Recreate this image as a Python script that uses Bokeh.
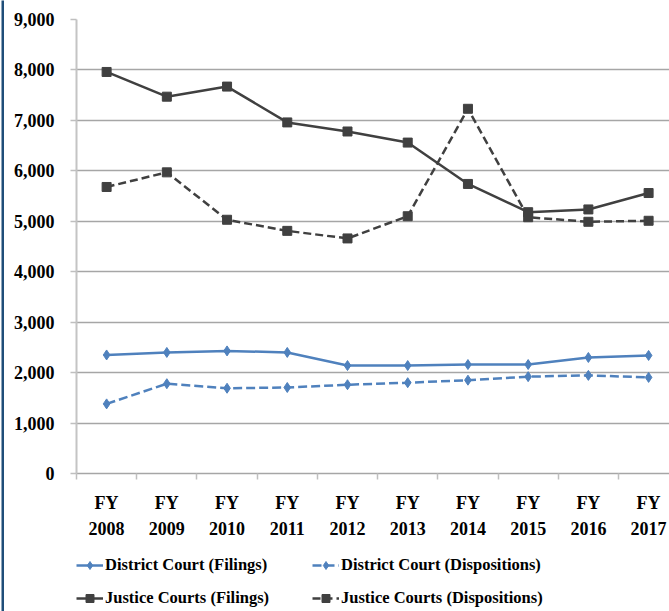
from bokeh.plotting import figure
from bokeh.models import Range1d, FixedTicker, NumeralTickFormatter, Legend, LegendItem
from bokeh.layouts import row, column
from bokeh.embed import file_html
from bokeh.resources import INLINE

years = ["2008", "2009", "2010", "2011", "2012", "2013", "2014", "2015", "2016", "2017"]
district_filings = [2350, 2400, 2430, 2400, 2140, 2140, 2160, 2160, 2300, 2340]
district_dispositions = [1380, 1780, 1690, 1705, 1760, 1800, 1850, 1920, 1945, 1905]
justice_filings = [7960, 7470, 7670, 6960, 6780, 6560, 5740, 5180, 5235, 5560]
justice_dispositions = [5680, 5970, 5030, 4810, 4660, 5100, 7230, 5080, 4990, 5010]
y_ticks = [0, 1000, 2000, 3000, 4000, 5000, 6000, 7000, 8000, 9000]

x = list(range(len(years)))
BLUE = "#4F81BD"
DARK = "#404040"
FONT = "Liberation Serif"
NAN = float("nan")

# thin page border on the left
bar = figure(width=4, height=611, output_backend="svg", toolbar_location=None,
             x_axis_type=None, y_axis_type=None, min_border_left=1, min_border_right=0,
             min_border_top=0, min_border_bottom=0, x_range=Range1d(0, 1), y_range=Range1d(0, 1))
bar.outline_line_color = None
bar.grid.visible = False
bar.background_fill_color = "#1F4E79"
bar.border_fill_color = "white"

p = figure(width=665, height=548, x_range=Range1d(-0.5, 9.347), y_range=Range1d(0, 9000),
           output_backend="svg", toolbar_location=None,
           min_border_left=72, min_border_right=0, min_border_top=19, min_border_bottom=75)
p.outline_line_color = None
p.xgrid.visible = False
p.ygrid.grid_line_color = "#A6A6A6"
p.ygrid.grid_line_width = 1.5

p.yaxis.ticker = FixedTicker(ticks=y_ticks)
p.yaxis.formatter = NumeralTickFormatter(format="0,0")
p.yaxis.axis_line_color = "#C4C4C4"
p.yaxis.axis_line_width = 2
p.yaxis.major_tick_out = 6
p.yaxis.major_tick_in = 0
p.yaxis.major_tick_line_color = "#BFBFBF"
p.yaxis.major_tick_line_width = 1.5
p.yaxis.minor_tick_out = 0
p.yaxis.minor_tick_in = 0
p.yaxis.major_label_standoff = 16

p.xaxis.ticker = FixedTicker(ticks=x, minor_ticks=[i - 0.5 for i in range(len(years) + 1)])
p.xaxis.major_label_overrides = {i: "FY\n" + y for i, y in enumerate(years)}
p.xaxis.axis_line_color = "#A6A6A6"
p.xaxis.axis_line_width = 1.5
p.xaxis.major_tick_out = 0
p.xaxis.major_tick_in = 0
p.xaxis.minor_tick_out = 6
p.xaxis.minor_tick_in = 0
p.xaxis.minor_tick_line_color = "#BFBFBF"
p.xaxis.minor_tick_line_width = 1.5
p.xaxis.major_label_standoff = 13
p.xaxis.major_label_text_line_height = 1.32

for ax in (p.xaxis[0], p.yaxis[0]):
    ax.major_label_text_font = FONT
    ax.major_label_text_font_style = "bold"
    ax.major_label_text_font_size = "18px"
    ax.major_label_text_color = "black"

series = [
    ("District Court (Filings)", district_filings, BLUE, "solid", "diamond", 10),
    ("District Court (Dispositions)", district_dispositions, BLUE, "9 4", "diamond", 10),
    ("Justice Courts (Filings)", justice_filings, DARK, "solid", "square", 9),
    ("Justice Courts (Dispositions)", justice_dispositions, DARK, "8 4", "square", 9),
]

for name, vals, col, dash, mk, sz in series:
    p.line(x, vals, line_color=col, line_width=2.5, line_dash=dash)
    p.scatter(x, vals, marker=mk, size=sz, color=col)

# legend strip below the chart (proxy renderers hold no drawable points)
leg = figure(width=665, height=63, output_backend="svg", toolbar_location=None,
             x_axis_type=None, y_axis_type=None, min_border=0,
             x_range=Range1d(0, 1), y_range=Range1d(0, 1))
leg.outline_line_color = None
leg.grid.visible = False

items = []
for name, vals, col, dash, mk, sz in series:
    lr = leg.line([NAN], [NAN], line_color=col, line_width=2.5, line_dash=dash)
    sr = leg.scatter([NAN], [NAN], marker=mk, size=sz, color=col)
    items.append(LegendItem(label=name, renderers=[lr, sr]))

order = [items[0], items[2], items[1], items[3]]
legend = Legend(items=order, orientation="vertical", nrows=2, location=(0, 3))
legend.label_text_font = FONT
legend.label_text_font_style = "bold"
legend.label_text_font_size = "16.5px"
legend.label_text_color = "black"
legend.glyph_width = 27
legend.glyph_height = 20
legend.label_standoff = 2
legend.label_width = 194
legend.spacing = 13
legend.padding = 0
legend.margin = 0
legend.border_line_color = None
legend.background_fill_alpha = 0
leg.add_layout(legend, "center")

layout = row(bar, column(p, leg, spacing=0), spacing=0)
open("out.html", "w").write(file_html(layout, INLINE))
